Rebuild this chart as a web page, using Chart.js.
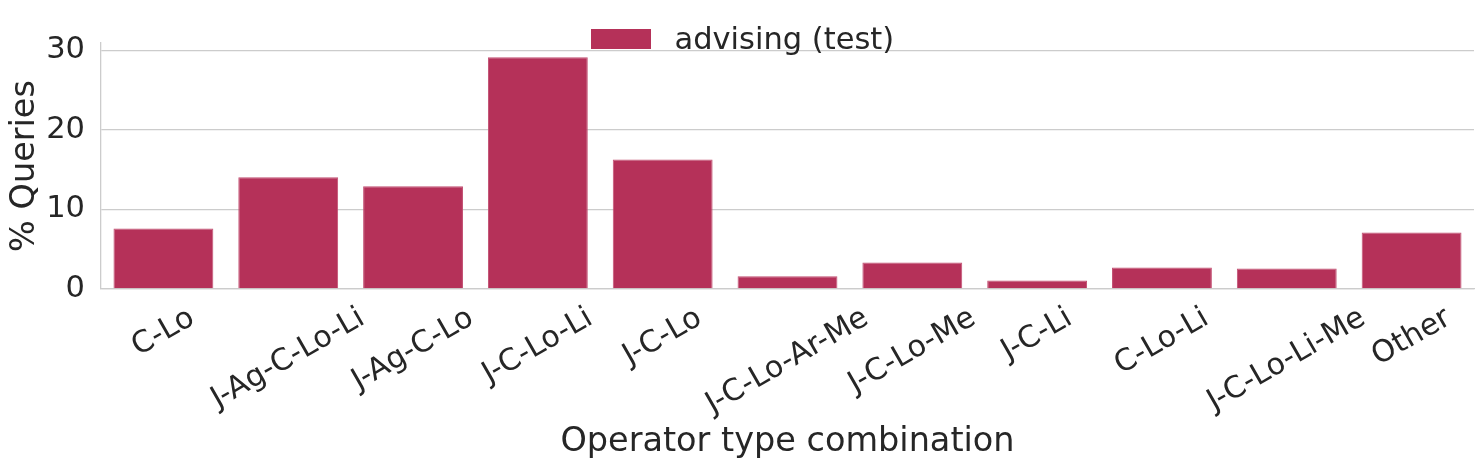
<!DOCTYPE html>
<html>
<head>
<meta charset="utf-8">
<script src="https://cdn.jsdelivr.net/npm/chart.js@4.4.0/dist/chart.umd.min.js"></script>
<style>
  html, body { margin: 0; padding: 0; background: #fff; }
  #wrap { width: 1484px; height: 468px; }
</style>
</head>
<body>
<div id="wrap"><canvas id="chart"></canvas></div>
<script>
const categories = ['C-Lo', 'J-Ag-C-Lo-Li', 'J-Ag-C-Lo', 'J-C-Lo-Li', 'J-C-Lo', 'J-C-Lo-Ar-Me',
    'J-C-Lo-Me', 'J-C-Li', 'C-Lo-Li', 'J-C-Lo-Li-Me', 'Other'];
const queryPct = [7.6, 14.05, 12.92, 29.1, 16.28, 1.6, 3.32, 1.06, 2.69, 2.57, 7.09];
const yTicks = [0, 10, 20, 30];
const seriesName = 'advising (test)';

const FONT = '"DejaVu Sans", sans-serif';
const TEXT = '#262626';
const GRID = '#cccccc';
const BAR = '#b53159';

// matplotlib-style rotated tick labels (centred on tick) + legend without frame
const extras = {
    id: 'extras',
    afterDraw(chart) {
        const ctx = chart.ctx;
        const xs = chart.scales.x;
        const area = chart.chartArea;
        const size = 30;
        const a = 30 * Math.PI / 180;
        ctx.save();
        ctx.font = size + 'px ' + FONT;
        ctx.fillStyle = TEXT;
        ctx.textAlign = 'center';
        ctx.textBaseline = 'middle';
        categories.forEach((label, i) => {
            const w = ctx.measureText(label).width;
            const h = size * 1.16;
            const bh = w * Math.sin(a) + h * Math.cos(a);
            const cx = xs.getPixelForValue(i);
            const cy = area.bottom + 12 + bh / 2;
            ctx.save();
            ctx.translate(cx, cy);
            ctx.rotate(-a);
            ctx.fillText(label, 0, 0);
            ctx.restore();
        });

        // legend
        const mid = (area.left + area.right) / 2;
        ctx.fillStyle = BAR;
        ctx.fillRect(mid - 196.5, 29, 60, 20);
        ctx.font = '30.5px ' + FONT;
        ctx.fillStyle = TEXT;
        ctx.textAlign = 'left';
        ctx.textBaseline = 'alphabetic';
        ctx.fillText(seriesName, mid - 113, 49);
        ctx.restore();
    }
};

new Chart(document.getElementById('chart'), {
    type: 'bar',
    data: {
        labels: categories,
        datasets: [{
            label: seriesName,
            data: queryPct,
            backgroundColor: BAR,
            borderColor: '#c24f72',
            borderWidth: 1,
            categoryPercentage: 0.8,
            barPercentage: 1.0
        }]
    },
    options: {
        responsive: true,
        maintainAspectRatio: false,
        animation: false,
        layout: {
            padding: { top: 43, right: 10, bottom: 0, left: 0 }
        },
        plugins: {
            legend: { display: false },
            tooltip: { enabled: false }
        },
        scales: {
            x: {
                grid: { display: false, drawTicks: false },
                border: { display: true, color: GRID, width: 1.3 },
                ticks: { display: false },
                title: {
                    display: true,
                    text: 'Operator type combination',
                    color: TEXT,
                    font: { family: FONT, size: 33.5 },
                    padding: { top: 0, bottom: 6 }
                },
                afterFit: function(scale) {
                    scale.height = 179;
                }
            },
            y: {
                min: 0,
                max: 30.9,
                afterBuildTicks: function(scale) {
                    scale.ticks = yTicks.map(v => ({ value: v }));
                },
                ticks: {
                    padding: 16,
                    color: TEXT,
                    font: { family: FONT, size: 30.5 }
                },
                grid: { color: GRID, lineWidth: 1.3, drawTicks: false },
                border: { color: GRID, width: 1.3 },
                title: {
                    display: true,
                    text: '% Queries',
                    color: TEXT,
                    font: { family: FONT, size: 33.5 },
                    padding: { top: 5, bottom: 0 }
                },
                afterFit: function(scale) {
                    scale.width = 101;
                }
            }
        }
    },
    plugins: [extras]
});
</script>
</body>
</html>
